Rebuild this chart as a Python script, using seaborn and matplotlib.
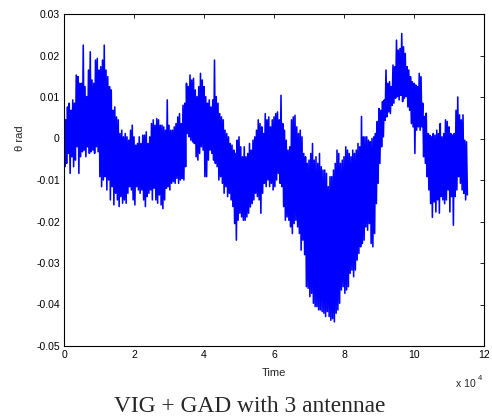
import numpy as np
import pandas as pd
import matplotlib
matplotlib.use("Agg")
import matplotlib.pyplot as plt
import seaborn as sns

# ---- data: local top / bottom of the trace (milli-rad), every 500 time units ----
t_start = 0
t_step = 500
upper_mrad = [
    11.7, 4.5, 7.6, 8.5, 6.8, 9.3, 8.5, 15.3, 14.9, 13.3,
    13.3, 22.5, 12.5, 10.1, 16.5, 20.9, 14.1, 13.3, 18.9, 19.3,
    16.5, 17.3, 18.9, 22.5, 16.5, 14.9, 12.5, 11.7, 6.8, 7.6,
    5.2, 4.5, 1.2, 2.0, 0.4, 1.2, 0.4, -0.4, 2.0, 3.2,
    0.4, -1.6, -1.2, 0.4, -1.2, 0.8, 0.8, 1.6, -1.2, 0.4,
    3.6, 4.5, 3.2, 4.8, 4.5, 3.2, 3.2, 2.8, 2.0, 9.3,
    3.2, 2.0, 2.0, 2.8, 3.6, 5.2, 6.0, 3.6, 8.0, 8.5,
    13.3, 12.5, 15.3, 14.1, 14.5, 11.7, 10.1, 12.5, 15.7, 14.1,
    12.5, 10.1, 8.5, 9.3, 7.6, 9.3, 18.9, 10.1, 8.5, 6.0,
    5.2, 4.5, 2.0, 1.2, 0.4, -1.2, -1.6, -2.8, -3.6, -0.4,
    0.4, -2.0, -4.4, -2.0, -4.4, -3.6, -1.2, -2.8, -0.4, 0.4,
    2.0, 4.5, 3.6, 2.8, 1.2, 6.0, 4.5, 5.2, 2.8, 4.5,
    5.2, 6.0, 6.4, 4.5, 10.4, 3.6, 2.0, -0.4, -2.8, -2.0,
    4.5, 5.2, 5.6, 2.8, 1.2, 2.0, 0.4, -3.6, -4.4, -6.0,
    -5.2, -3.6, -1.2, -5.2, -4.4, -6.0, -3.6, -6.8, -7.6, -7.6,
    -8.4, -11.6, -9.2, -9.2, -7.6, -6.0, -2.8, -3.6, -6.0, -5.2,
    -4.4, -2.0, -2.8, -3.6, -4.4, -2.8, -3.6, -2.8, -1.2, -2.0,
    5.3, 0.4, 0.4, 0.4, -0.4, -0.8, 0.0, 0.4, 1.2, 4.1,
    7.2, 6.8, 8.9, 9.3, 16.5, 13.3, 13.7, 12.5, 17.7, 17.3,
    23.7, 21.3, 21.7, 25.3, 22.1, 20.5, 17.3, 16.5, 14.9, 13.7,
    13.3, 12.9, 12.5, 15.7, 14.9, 8.5, 5.3, 6.1, 1.2, 0.8,
    0.4, 1.2, 0.8, 2.0, 1.2, 3.6, 0.4, 1.2, 4.5, 4.1,
    2.8, 1.2, 0.8, 1.2, 6.8, 10.0, 5.7, 4.5, 5.7, -0.4, -0.8,
]
lower_mrad = [
    -6.8, -6.0, -3.6, -8.4, -4.4, -6.8, -5.2, -2.0, -8.4, -4.4,
    -3.2, -2.8, -4.4, -2.0, -3.6, -3.2, -2.8, -3.6, -2.0, -3.2,
    -9.2, -11.6, -10.0, -9.2, -12.4, -10.0, -14.8, -11.6, -16.0, -13.2,
    -14.8, -16.4, -14.0, -15.6, -14.8, -15.6, -13.2, -11.6, -12.4, -14.8,
    -16.0, -11.6, -12.4, -13.2, -12.4, -14.8, -16.4, -14.0, -13.2, -12.4,
    -14.8, -12.0, -14.8, -15.6, -13.6, -16.0, -16.9, -14.8, -12.0, -11.6,
    -12.4, -10.8, -10.4, -10.8, -9.6, -10.8, -10.0, -9.6, -10.0, -6.8,
    1.2, 0.4, -0.4, -0.8, -1.2, -4.4, -5.2, -3.6, -2.0, -2.8,
    -9.2, -9.2, -5.2, -2.8, -3.6, -5.2, -6.0, -6.8, -10.0, -9.2,
    -10.8, -13.2, -11.6, -14.0, -13.2, -14.8, -16.4, -20.5, -24.5, -19.7,
    -18.0, -18.9, -19.7, -19.7, -18.9, -18.0, -16.5, -15.7, -14.8, -13.2,
    -14.0, -14.8, -18.0, -13.2, -10.8, -11.6, -10.0, -11.6, -10.8, -12.4,
    -11.6, -10.0, -8.4, -10.8, -11.6, -16.4, -19.7, -18.9, -19.7, -21.3,
    -22.9, -20.5, -19.7, -21.3, -22.9, -26.9, -24.5, -28.0, -35.7, -36.1,
    -38.1, -37.3, -39.7, -40.5, -40.5, -41.3, -41.3, -41.7, -42.1, -42.9,
    -41.7, -42.9, -43.8, -43.4, -44.2, -42.1, -41.3, -39.7, -36.5, -35.7,
    -37.3, -36.5, -35.7, -32.5, -31.7, -33.3, -31.7, -29.3, -27.7, -26.1,
    -25.3, -24.5, -21.3, -22.1, -20.5, -25.3, -26.1, -22.9, -15.7, -10.8,
    -6.0, -2.0, 0.4, 4.4, 5.2, 6.4, 6.0, 8.0, 8.5, 9.7,
    10.1, 9.3, 10.4, 8.9, 9.7, 10.1, 7.6, 6.8, 3.6, 2.8,
    -3.6, 2.0, 2.8, 2.0, 2.8, -4.4, -6.0, -9.2, -12.4, -15.7,
    -19.0, -15.3, -17.7, -14.8, -18.0, -14.0, -14.8, -15.7, -14.8, -12.4,
    -17.7, -14.0, -20.9, -14.0, -12.4, -9.2, -10.8, -12.4, -13.2, -14.8, -13.6,
]
x_ticks = [0, 20000, 40000, 60000, 80000, 100000, 120000]
x_tick_labels = ["0", "2", "4", "6", "8", "10", "12"]
y_ticks = [-0.05, -0.04, -0.03, -0.02, -0.01, 0, 0.01, 0.02, 0.03]
y_tick_labels = ["-0.05", "-0.04", "-0.03", "-0.02", "-0.01", "0", "0.01", "0.02", "0.03"]

sns.set_style("white")
plt.rcParams['font.family'] = ['Liberation Sans', 'DejaVu Sans']

n = len(upper_mrad)
t = t_start + t_step * np.arange(n)
times = np.empty(2 * n)
vals = np.empty(2 * n)
times[0::2] = t
times[1::2] = t + t_step / 2
vals[0::2] = np.array(upper_mrad) / 1000.0
vals[1::2] = np.array(lower_mrad) / 1000.0
df = pd.DataFrame({"Time": times, "theta": vals})

W, H = 492, 418
fig = plt.figure(figsize=(W / 100, H / 100), dpi=100)
ax = fig.add_axes([64 / W, 1 - 346 / H, 420 / W, 332 / H])
sns.lineplot(data=df, x="Time", y="theta", ax=ax, color="#0000ff",
             linewidth=1.15, estimator=None, sort=False)

ax.set_xlim(0, 120000)
ax.set_ylim(-0.05, 0.03)
ax.set_xticks(x_ticks)
ax.set_xticklabels(x_tick_labels)
ax.set_yticks(y_ticks)
ax.set_yticklabels(y_tick_labels)
ax.tick_params(direction="in", length=3, width=0.6, labelsize=7.5, top=True, right=True,
               colors="black", pad=3)
for s in ax.spines.values():
    s.set_visible(True)
    s.set_color("black")
    s.set_linewidth(0.8)
ax.set_xlabel("Time", fontsize=8, labelpad=6)
ax.set_ylabel("θ rad", fontsize=8)
ax.yaxis.set_label_coords(-0.092, 0.627)

fig.text(476 / W, 1 - 384 / H, "x 10", fontsize=7.5, ha="right", va="center")
fig.text(478 / W, 1 - 379 / H, "4", fontsize=5.5, ha="left", va="center")
fig.text(250 / W, 1 - 406 / H, "VIG + GAD with 3 antennae",
         family=["Liberation Serif", "DejaVu Serif"], fontsize=16.8, ha="center", va="center")

fig.savefig("out.png", dpi=100, facecolor="white")
